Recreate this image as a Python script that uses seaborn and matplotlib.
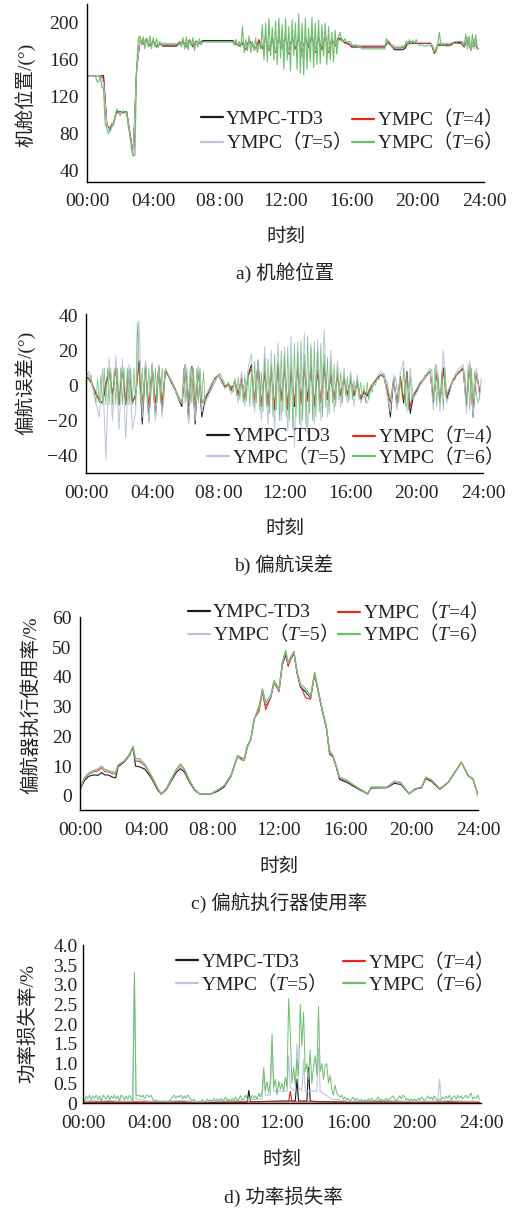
import numpy as np
import matplotlib
matplotlib.use("Agg")
import matplotlib.pyplot as plt
import seaborn as sns
from matplotlib.lines import Line2D

# ---------------- data ----------------
LABELS = ["YMPC-TD3",
          r"YMPC$\mathrm{（}\mathit{T}$=4$\mathrm{）}$",
          r"YMPC$\mathrm{（}\mathit{T}$=5$\mathrm{）}$",
          r"YMPC$\mathrm{（}\mathit{T}$=6$\mathrm{）}$"]
COLORS = ["#1c1c1c", "#e8281c", "#bcc4dc", "#6cbf6c"]
XTICKS = [0, 4, 8, 12, 16, 20, 24]
XTICKLABELS = ["00:00", "04:00", "08\u200a:\u200a00", "12:00", "16:00", "20:00", "24:00"]

# panel a: nacelle position (deg); T=6 sampled every 0.1 h, others every 0.2 h
a_t6 = [143, 143, 143, 143, 143, 143, 137, 136, 143, 131,
        128, 90, 86, 80, 88, 92, 89, 100, 107, 104,
        100, 104, 105, 103, 104, 88, 78, 62, 56, 57,
        150, 183, 186, 176, 185, 172, 184, 174, 186, 172,
        184, 174, 183, 173, 180, 175, 178, 177, 177, 177,
        177, 177, 177, 177, 177, 177, 180, 174, 184, 172,
        185, 171, 182, 175, 184, 170, 181, 174, 183, 176,
        180, 180, 180, 180, 180, 180, 180, 180, 180, 180,
        180, 180, 180, 180, 180, 180, 180, 180, 180, 176,
        182, 176, 180, 174, 196, 168, 182, 170, 186, 168,
        180, 170, 184, 168, 178, 172, 198, 160, 200, 158,
        205, 165, 195, 160, 202, 155, 205, 162, 198, 150,
        205, 160, 196, 148, 203, 165, 200, 150, 210, 146,
        200, 144, 205, 150, 194, 158, 206, 152, 200, 155,
        203, 156, 198, 164, 200, 155, 196, 160, 190, 158,
        192, 166, 185, 190, 181, 180, 183, 178, 180, 180,
        177, 175, 176, 176, 173, 175, 172, 172, 172, 172,
        172, 172, 172, 172, 172, 172, 172, 172, 172, 172,
        172, 183, 178, 176, 175, 173, 173, 173, 173, 173,
        174, 174, 174, 180, 176, 182, 177, 181, 178, 182,
        177, 176, 176, 176, 175, 175, 176, 176, 175, 175,
        170, 168, 175, 190, 176, 177, 177, 175, 175, 175,
        178, 178, 178, 178, 180, 180, 180, 180, 175, 188,
        172, 186, 170, 188, 172, 187, 172, 172]
a_td3 = [143, 143, 143, 143, 143, 143, 90, 84, 92, 104,
         104, 104, 104, 80, 58, 150, 181, 178, 182, 176,
         180, 175, 178, 175, 175, 175, 175, 175, 178, 180,
         174, 181, 176, 180, 178, 181, 181, 181, 181, 181,
         181, 181, 181, 181, 181, 178, 175, 178, 172, 180,
         176, 172, 180, 174, 183, 172, 181, 170, 184, 174,
         185, 168, 183, 172, 184, 166, 184, 175, 186, 170,
         183, 172, 186, 170, 181, 176, 184, 182, 179, 178,
         174, 174, 174, 174, 174, 174, 174, 174, 174, 174,
         174, 180, 175, 171, 171, 171, 172, 178, 178, 178,
         178, 178, 178, 178, 178, 167, 176, 176, 176, 176,
         176, 179, 179, 179, 174, 182, 172, 180, 173]
a_t4 = [143, 143, 143, 143, 143, 140, 90, 86, 92, 103,
        103, 103, 103, 80, 57, 150, 182, 177, 183, 175,
        181, 174, 177, 176, 176, 176, 176, 176, 179, 178,
        176, 182, 174, 179, 179, 180, 180, 180, 180, 180,
        180, 180, 180, 180, 180, 177, 176, 179, 171, 182,
        175, 172, 182, 172, 185, 170, 184, 168, 185, 172,
        187, 166, 185, 172, 186, 164, 185, 173, 188, 168,
        185, 171, 188, 168, 183, 175, 183, 181, 178, 177,
        175, 175, 175, 175, 175, 175, 175, 175, 175, 175,
        175, 181, 176, 173, 173, 173, 174, 179, 179, 179,
        178, 178, 178, 178, 178, 168, 177, 177, 177, 177,
        177, 178, 178, 178, 175, 184, 171, 182, 172]
a_t5 = [143, 143, 143, 143, 143, 135, 90, 82, 92, 102,
        103, 105, 102, 79, 56, 150, 183, 179, 181, 177,
        181, 176, 178, 178, 178, 178, 178, 178, 180, 177,
        175, 180, 177, 179, 179, 179, 179, 179, 179, 179,
        179, 179, 179, 179, 179, 179, 176, 180, 173, 178,
        177, 171, 178, 175, 183, 172, 180, 170, 184, 174,
        186, 168, 182, 175, 185, 164, 184, 177, 188, 170,
        182, 175, 186, 170, 180, 177, 182, 180, 180, 179,
        176, 176, 176, 176, 176, 176, 176, 176, 176, 176,
        176, 182, 177, 175, 175, 175, 176, 180, 180, 179,
        179, 179, 179, 179, 179, 169, 178, 178, 178, 178,
        178, 180, 180, 180, 176, 183, 172, 181, 174]

# panel b: yaw error (deg); T=6 every 0.1 h, others every 0.2 h
b_t6 = [5, 7, 3, 6, 0, -3, -10, 4, -10, 6,
        -11, 10, -11, 10, -11, 10, -11, 10, -11, 10,
        -11, 10, -11, 10, -11, 10, -11, 10, -11, 10,
        -11, 36, 12, -10, 10, -10, 10, -10, 10, -10,
        10, -10, 10, -10, 10, -10, 10, -8, 9, 7,
        5, 3, 2, 0, -2, -4, -6, -8, -10, 10,
        -10, 10, -10, 10, -10, 10, -10, 10, -10, 10,
        -10, 8, -10, -8, -6, -4, -2, 0, 2, 4,
        5, 7, 5, 3, 1, -1, 2, -3, 0, -4,
        3, -6, 5, -8, 2, -10, 6, -9, 8, -12,
        10, -12, 14, -10, 12, -14, 8, -15, 16, -12,
        15, -16, 12, -18, 18, -14, 14, -20, 20, -15,
        18, -18, 22, -20, 16, -25, 24, -18, 20, -22,
        26, -20, 18, -24, 28, -16, 22, -20, 25, -18,
        20, -15, 24, -18, 18, -12, 16, -16, 14, -10,
        12, -12, 10, -8, 8, -10, 6, -6, 5, -9,
        6, -8, 3, -5, 4, -8, 2, -6, 0, -10,
        2, -8, 0, -4, 2, 0, 4, 3, 6, 5,
        7, 4, 2, -3, -8, -2, 3, 5, -2, -10,
        3, -6, 10, -12, 8, -14, 5, -8, -6, -4,
        -2, 0, 2, 3, 4, 6, 5, 7, 8, 9,
        -8, 12, -12, 6, -10, 8, -14, 10, -5, -3,
        -1, 2, 4, 3, 6, 8, 7, 10, 9, 8,
        -10, 12, -14, 10, -8, 8, -5, -10, -6, 4]
b_td3 = [5, 4, 0, -5, -8, -10, 0, 8, -5, 10,
         -11, 10, -11, 8, -10, -5, 14, -22, 13, -20,
         12, -18, 11, -15, 9, 5, 1, -3, -8, -12,
         12, -20, 11, -22, 10, -18, -8, -4, 0, 4,
         6, 3, -1, 1, -2, 2, -5, 4, -8, 6,
         12, -10, 14, -12, 8, -12, 10, -14, 12, -8,
         10, -14, 8, -12, 12, -10, 12, -8, 10, -12,
         8, -10, 12, -8, 6, -8, 6, -6, 4, -5,
         4, -6, 2, -8, -4, -6, -2, 1, 4, 6,
         5, -3, -18, 4, -12, 5, -10, 8, -16, -6,
         -3, 1, 3, 6, 8, -10, 8, -10, 10, -8,
         -2, 3, 6, 8, 10, -12, 12, -18, 8, -4]
b_t4 = [5, 3, 0, -4, -9, -10, 2, 9, -6, 10,
        -11, 9, -10, 9, -10, -6, 12, -10, 10, -12,
        10, -10, 10, -10, 8, 5, 2, -2, -7, -10,
        10, -12, 10, -12, 9, -10, -7, -3, 1, 4,
        6, 2, -1, 1, -3, 3, -6, 5, -7, 5,
        10, -9, 12, -11, 9, -11, 11, -12, 10, -9,
        11, -12, 9, -10, 10, -11, 10, -9, 11, -10,
        9, -9, 10, -7, 5, -7, 5, -5, 4, -6,
        3, -5, 2, -7, -3, -5, -1, 2, 4, 6,
        6, -2, -10, 3, -9, 4, -8, 6, -12, -5,
        -2, 1, 3, 6, 8, -8, 7, -9, 9, -6,
        -1, 3, 6, 8, 9, -10, 10, -12, 6, -3]
b_t5 = [6, 8, -2, -10, -18, 10, -42, 16, -20, 17,
        -25, 15, -30, 12, -25, -15, 37, -18, 14, -22,
        13, -20, 12, -18, 10, 6, 2, -3, -8, -10,
        12, -22, 10, -20, 11, -15, -6, -3, 1, 3,
        6, 2, -2, 0, -5, 4, -10, 8, -12, 10,
        18, -15, 15, -20, 22, -22, 20, -25, 24, -20,
        22, -26, 28, -35, 25, -25, 30, -28, 24, -22,
        26, -20, 32, -18, 20, -15, 14, -12, 10, -10,
        8, -12, 6, -10, -6, -10, -4, 2, 5, 8,
        6, -5, -15, 6, -14, 7, 14, -15, 10, -8,
        -4, 0, 3, 7, 10, -14, 12, -15, 20, -10,
        -4, 4, 8, 10, 12, -16, 14, -18, 10, -8]

# panel c: yaw actuator usage (%)
c_time = [0.0, 0.25, 0.5, 0.8, 1.1, 1.3, 1.5, 1.7, 2.0, 2.15,
          2.3, 2.7, 3.0, 3.2, 3.35, 3.6, 3.9, 4.3, 4.7, 4.9,
          5.2, 5.5, 5.8, 6.05, 6.3, 6.6, 6.9, 7.2, 7.9, 8.3,
          8.7, 9.1, 9.5, 9.7, 9.9, 10.1, 10.3, 10.5, 10.8, 11.0,
          11.2, 11.5, 11.7, 12.0, 12.2, 12.4, 12.55, 12.75, 12.9, 13.1,
          13.3, 13.6, 13.9, 14.15, 14.35, 14.6, 14.85, 15.05, 15.25, 15.45,
          15.65, 16.1, 16.7, 17.35, 17.55, 18.5, 18.95, 19.35, 19.85, 20.2,
          20.6, 20.85, 21.2, 21.7, 22.2, 22.6, 23.0, 23.4, 23.7, 24.0]
c_td3 = [2.0, 5.0, 6.5, 7.0, 6.9, 7.8, 7.0, 7.0, 6.2, 6.0,
         9.8, 11.5, 13.8, 16.2, 10.0, 9.7, 9.0, 6.0, 1.8, 0.5,
         2.0, 5.0, 7.8, 9.1, 8.0, 4.6, 2.0, 0.6, 0.6, 1.5,
         3.0, 6.5, 13.2, 12.2, 12.0, 16.5, 18.8, 25.5, 30.0, 35.5,
         30.5, 33.0, 38.0, 35.5, 44.0, 47.5, 44.0, 46.5, 48.0, 41.0,
         36.5, 35.0, 33.0, 40.8, 35.5, 28.8, 23.0, 14.0, 13.2, 9.8,
         5.5, 4.5, 2.5, 0.6, 2.6, 2.7, 4.2, 3.8, 0.6, 2.2,
         2.7, 5.8, 4.8, 2.2, 4.4, 7.8, 11.2, 6.8, 5.5, 0.1]
c_t4 = [2.3, 5.6, 7.2, 8.0, 8.4, 9.4, 8.2, 8.0, 7.4, 7.4,
        10.2, 11.7, 14.0, 16.5, 11.8, 11.5, 10.2, 6.5, 2.2, 0.6,
        2.2, 5.4, 8.5, 10.2, 8.7, 5.0, 2.2, 0.6, 0.7, 2.0,
        3.4, 6.8, 13.4, 12.6, 12.2, 16.8, 19.0, 25.8, 28.5, 35.0,
        29.0, 33.2, 38.4, 35.0, 44.5, 48.5, 43.5, 46.8, 48.2, 41.2,
        37.0, 33.0, 32.5, 41.2, 35.8, 29.0, 23.4, 15.2, 13.4, 10.0,
        6.0, 5.0, 2.8, 0.7, 2.8, 2.8, 4.8, 4.4, 0.7, 2.3,
        2.8, 6.1, 5.0, 2.3, 4.5, 7.9, 11.3, 6.9, 5.6, 0.2]
c_t5 = [2.4, 5.8, 7.4, 8.2, 8.8, 9.7, 8.5, 8.2, 7.7, 7.7,
        10.3, 11.8, 14.1, 16.6, 12.0, 12.0, 10.5, 6.7, 2.3, 0.6,
        2.3, 5.5, 8.6, 10.4, 8.9, 5.1, 2.3, 0.6, 0.7, 1.9,
        3.4, 6.8, 13.3, 12.0, 12.3, 16.6, 18.5, 25.6, 29.5, 35.6,
        30.8, 33.4, 38.5, 35.6, 44.6, 48.6, 44.5, 47.0, 48.4, 41.4,
        37.2, 35.6, 33.4, 41.4, 35.9, 29.1, 23.5, 14.5, 13.5, 10.1,
        6.2, 5.1, 2.9, 0.7, 2.9, 2.9, 5.0, 4.5, 0.7, 2.4,
        2.9, 6.2, 5.4, 2.4, 4.5, 8.0, 11.3, 6.9, 5.7, 0.2]
c_t6 = [2.5, 6.0, 7.5, 8.5, 9.1, 10.0, 8.8, 8.5, 8.0, 8.0,
        10.4, 11.9, 14.2, 16.7, 12.5, 12.5, 10.8, 6.9, 2.4, 0.7,
        2.4, 5.7, 8.9, 10.8, 9.1, 5.2, 2.4, 0.7, 0.7, 1.8,
        3.5, 6.9, 13.6, 13.0, 12.5, 17.0, 19.2, 26.0, 29.3, 36.1,
        31.6, 33.8, 38.9, 36.1, 45.1, 49.0, 45.1, 47.3, 48.7, 41.7,
        37.7, 36.1, 33.8, 41.7, 36.1, 29.3, 23.7, 14.7, 13.6, 10.2,
        6.3, 5.2, 2.9, 0.7, 2.9, 2.9, 4.6, 4.1, 0.7, 2.4,
        2.9, 6.3, 5.2, 2.4, 4.6, 8.0, 11.4, 6.9, 5.7, 0.2]

# panel d: power loss rate (%); T=6 every 0.1 h, others at listed times
d_t6 = [0.15, 0.05, 0.18, 0.1, 0.2, 0.08, 0.18, 0.12, 0.2, 0.1,
        0.18, 0.05, 0.2, 0.15, 0.1, 0.2, 0.08, 0.18, 0.12, 0.2,
        0.1, 0.18, 0.05, 0.2, 0.15, 0.08, 0.18, 0.1, 0.2, 0.12,
        0.05, 3.32, 0.2, 0.18, 0.2, 0.15, 0.2, 0.12, 0.18, 0.2,
        0.15, 0.2, 0.1, 0.05, 0.08, 0.03, 0.05, 0.02, 0.04, 0.03,
        0.05, 0.02, 0.04, 0.1, 0.15, 0.2, 0.12, 0.18, 0.15, 0.2,
        0.1, 0.18, 0.12, 0.2, 0.15, 0.08, 0.05, 0.1, 0.03, 0.02,
        0.05, 0.02, 0.08, 0.03, 0.05, 0.1, 0.04, 0.08, 0.05, 0.12,
        0.04, 0.1, 0.06, 0.12, 0.05, 0.08, 0.15, 0.06, 0.1, 0.05,
        0.12, 0.08, 0.15, 0.05, 0.1, 0.18, 0.08, 0.12, 0.2, 0.1,
        0.15, 0.08, 0.2, 0.12, 0.18, 0.1, 0.25, 0.15, 0.3, 0.9,
        0.3, 0.55, 0.25, 0.6, 1.75, 0.4, 0.6, 0.2, 0.55, 0.35,
        0.5, 0.3, 0.65, 0.4, 2.65, 1.75, 0.5, 0.9, 0.45, 1.1,
        0.7, 2.5, 1.45, 2.3, 0.8, 1.0, 0.6, 1.35, 0.5, 0.9,
        1.2, 0.7, 2.45, 0.8, 1.0, 0.6, 0.95, 1.0, 0.5, 0.7,
        0.35, 0.2, 0.45, 0.25, 0.2, 0.15, 0.2, 0.1, 0.15, 0.08,
        0.12, 0.05, 0.1, 0.15, 0.06, 0.12, 0.08, 0.05, 0.1, 0.04,
        0.08, 0.05, 0.1, 0.06, 0.12, 0.08, 0.05, 0.1, 0.15, 0.06,
        0.1, 0.05, 0.08, 0.12, 0.06, 0.1, 0.15, 0.18, 0.1, 0.05,
        0.12, 0.18, 0.1, 0.2, 0.15, 0.08, 0.12, 0.05, 0.1, 0.06,
        0.1, 0.05, 0.12, 0.08, 0.15, 0.1, 0.05, 0.12, 0.18, 0.1,
        0.15, 0.08, 0.18, 0.1, 0.05, 0.1, 0.08, 0.15, 0.1, 0.18,
        0.12, 0.2, 0.08, 0.15, 0.18, 0.1, 0.2, 0.12, 0.18, 0.1,
        0.15, 0.2, 0.12, 0.18, 0.25, 0.1, 0.15, 0.12, 0.2, 0.1]
d_td3_time = [0, 2, 4, 6, 8, 9.9, 10.0, 10.1, 12, 12.8, 12.9, 13.0, 13.1,
              13.5, 13.6, 13.7, 14, 16, 18, 20, 22, 23.9]
d_td3 = [0.02, 0.03, 0.02, 0.03, 0.02, 0.02, 0.32, 0.03, 0.05, 0.05, 0.6, 0.05, 0.05,
         0.05, 0.9, 0.05, 0.04, 0.02, 0.03, 0.02, 0.03, 0.02]
d_t4_time = [0, 6, 12, 12.4, 12.5, 12.6, 18, 23.9]
d_t4 = [0.01, 0.02, 0.03, 0.03, 0.3, 0.03, 0.02, 0.01]
d_t5_time = [0, 1, 2, 3.0, 3.1, 3.2, 4, 5, 6, 7, 8, 9, 10, 10.8, 10.9, 11.0,
             11.3, 11.4, 11.5, 12.3, 12.4, 12.5, 12.8, 12.9, 13.0, 13.2, 13.3, 13.4,
             14.1, 14.2, 14.3, 15, 16, 18, 20, 21.4, 21.5, 21.6, 22, 23, 23.9]
d_t5 = [0.05, 0.08, 0.05, 0.05, 3.1, 0.1, 0.05, 0.05, 0.06, 0.03, 0.05, 0.06, 0.08,
        0.1, 0.75, 0.2, 0.2, 1.5, 0.3, 0.3, 1.2, 0.4, 0.3, 1.5, 0.4, 0.3, 1.1, 0.3,
        0.3, 1.4, 0.3, 0.1, 0.05, 0.06, 0.05, 0.05, 0.6, 0.05, 0.06, 0.05, 0.05]

# ---------------- style ----------------
sns.set_style("white")
plt.rcParams['font.family'] = ['Liberation Serif', 'Noto Sans CJK SC', 'DejaVu Sans']
plt.rcParams['mathtext.fontset'] = 'custom'
plt.rcParams['mathtext.rm'] = 'Noto Sans CJK SC'
plt.rcParams['mathtext.it'] = 'Liberation Serif:italic'
plt.rcParams['axes.linewidth'] = 1.0
FS = 14
TXT = '#222222'

W, H = 513, 1209
fig = plt.figure(figsize=(W / 100, H / 100), dpi=100)
fig.patch.set_facecolor('white')


def make_axes(left, right, top, bottom):
    return fig.add_axes([left / W, 1 - bottom / H, (right - left) / W, (bottom - top) / H])


def grid(values, step):
    return np.arange(len(values)) * step


def draw(ax, t, v, color, lw=0.8):
    sns.lineplot(x=np.asarray(t, float), y=np.asarray(v, float), ax=ax, color=color,
                 lw=lw, estimator=None, legend=False)


def style(ax, ylim, yticks, yticklabels, ylabel, ylab_xy, xlab_y, ypad=6):
    ax.set_xlim(0, 24)
    ax.set_ylim(*ylim)
    ax.set_xticks(XTICKS)
    ax.set_xticklabels(XTICKLABELS)
    ax.set_yticks(yticks)
    ax.set_yticklabels(yticklabels)
    for s in ['top', 'right']:
        ax.spines[s].set_visible(False)
    for s in ['left', 'bottom']:
        ax.spines[s].set_color('black')
    ax.tick_params(axis='both', direction='in', length=4, width=1.0, colors='black',
                   labelsize=FS, labelcolor=TXT)
    ax.tick_params(axis='x', pad=8.5)
    ax.tick_params(axis='y', pad=ypad)
    ax.set_xlabel("时刻", fontsize=FS, color=TXT)
    ax.xaxis.set_label_coords(0.5, xlab_y)
    ax.xaxis.label.set_va('center')
    ax.set_ylabel(ylabel, fontsize=FS, color=TXT)
    ax.yaxis.set_label_coords(*ylab_xy)
    ax.yaxis.label.set_va('center')
    ax.set_facecolor('white')


def legends(ax, x1, x2, y1, y2):
    # plain-text entry is nudged down 1.5 px so its row lines up with the math-text entry
    dy = 1.5 / (ax.get_position().height * H)
    spots = [(x1, y1 - dy), (x2, y1), (x1, y2), (x2, y2)]
    for i, (x, y) in enumerate(spots):
        h = Line2D([], [], color=COLORS[i], lw=1.6)
        lg = ax.legend([h], [LABELS[i]], bbox_to_anchor=(x, y), loc='center left',
                       frameon=False, borderpad=0, borderaxespad=0, handlelength=1.15,
                       handletextpad=0.15, fontsize=FS)
        for t in lg.get_texts():
            t.set_color(TXT)
        ax.add_artist(lg)
    ax.legend_ = None


def caption(x, y, text):
    fig.text(x / W, 1 - y / H, text, ha='center', va='center', fontsize=FS, color=TXT)


# ---------------- panel a ----------------
ax = make_axes(87, 484, 4, 181.5)
draw(ax, grid(a_td3, 0.2), a_td3, COLORS[0])
draw(ax, grid(a_t4, 0.2), a_t4, COLORS[1])
draw(ax, grid(a_t5, 0.2), a_t5, COLORS[2])
draw(ax, grid(a_t6, 0.1), a_t6, COLORS[3])
style(ax, (28.6, 220.5), [40, 80, 120, 160, 200], ['40', '80', '120', '160', '200'],
      "机舱位置/(°)", (-0.156, 0.487), -0.313)
legends(ax, 0.287, 0.6675, 0.358, 0.228)
caption(285, 273, "a) 机舱位置")

# ---------------- panel b ----------------
ax = make_axes(86, 483, 314, 473.3)
draw(ax, grid(b_td3, 0.2), b_td3, COLORS[0], lw=0.7)
draw(ax, grid(b_t4, 0.2), b_t4, COLORS[1], lw=0.7)
draw(ax, grid(b_t5, 0.2), b_t5, COLORS[2], lw=0.7)
draw(ax, grid(b_t6, 0.1), b_t6, COLORS[3], lw=0.5)
style(ax, (-50, 40.7), [-40, -20, 0, 20, 40], ['−40', '−20', '0', '20', '40'],
      "偏航误差/(°)", (-0.154, 0.57), -0.35)
legends(ax, 0.305, 0.6725, 0.240, 0.109)
caption(284, 565, "b) 偏航误差")

# ---------------- panel c ----------------
ax = make_axes(80, 478, 616.7, 810)
draw(ax, c_time, c_td3, COLORS[0])
draw(ax, c_time, c_t4, COLORS[1])
draw(ax, c_time, c_t5, COLORS[2])
draw(ax, c_time, c_t6, COLORS[3])
style(ax, (-4.8, 60.3), [0, 10, 20, 30, 40, 50, 60], ['0', '10', '20', '30', '40', '50', '60'],
      "偏航器执行使用率/%", (-0.123, 0.543), -0.295)
legends(ax, 0.271, 0.648, 1.029, 0.915)
caption(279, 903, "c) 偏航执行器使用率")

# ---------------- panel d ----------------
ax = make_axes(83, 481, 944.5, 1103)
draw(ax, d_td3_time, d_td3, COLORS[0])
draw(ax, d_t4_time, d_t4, COLORS[1])
draw(ax, d_t5_time, d_t5, COLORS[2])
draw(ax, grid(d_t6, 0.1), d_t6, COLORS[3], lw=0.7)
style(ax, (0, 4.02), [0, 0.5, 1.0, 1.5, 2.0, 2.5, 3.0, 3.5, 4.0],
      ['0', '0.5', '1.0', '1.5', '2.0', '2.5', '3.0', '3.5', '4.0'],
      "功率损失率/%", (-0.138, 0.50), -0.36, ypad=4)
legends(ax, 0.234, 0.653, 0.898, 0.759)
caption(283, 1197, "d) 功率损失率")

fig.savefig("out.png", dpi=100, facecolor='white')
